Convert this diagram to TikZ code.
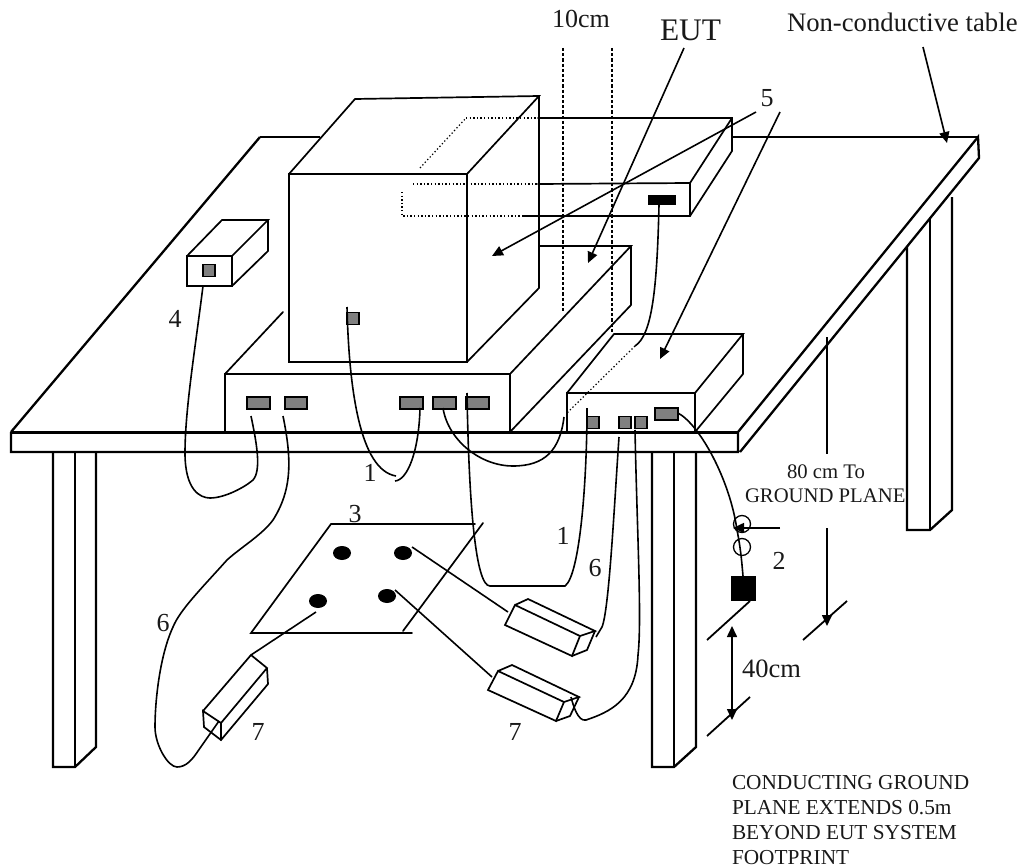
\documentclass[tikz,border=0pt]{standalone}
\usepackage{fontspec}
\setmainfont{Liberation Serif}
\usetikzlibrary{arrows.meta,shapes.geometric}
\tikzset{
  every node/.style={inner sep=0pt,outer sep=0pt,text=black!90},
  edgeline/.style={line width=1.7pt,line join=miter,line cap=round},
  heavy/.style={line width=3pt,line cap=butt},
  tableline/.style={line width=2.3pt,line cap=butt},
  cable/.style={line width=1.6pt},
  dotline/.style={line width=1.2pt,dash pattern=on 1.3pt off 2.3pt},
  dashline/.style={line width=1.1pt,dash pattern=on 3.2pt off 2pt},
  pointer/.style={line width=1.6pt,-{Triangle[length=11pt,width=10pt]}},
  twoway/.style={line width=1.6pt,{Triangle[length=11pt,width=10pt]}-{Triangle[length=11pt,width=10pt]}},
  port/.style={draw=black,fill=black!50,line width=1.5pt,minimum width=#1,minimum height=12pt,rectangle},
  num/.style={font=\fontsize{26}{26}\selectfont},
  small/.style={font=\fontsize{20.7}{25}\selectfont,anchor=base west},
  dot/.style={ellipse,fill=black,minimum width=18pt,minimum height=14pt},
}
\begin{document}
\begin{tikzpicture}[x=1pt,y=-1pt]
\useasboundingbox (0,0) rectangle (1020,867);
% ---- table
\draw[tableline] (260,137) -- (320,137);
\draw[tableline] (732,137) -- (978,137);
\draw[heavy] (11,432) -- (738,432);
\draw[tableline] (11,432) -- (260,137);
\draw[tableline] (11,432) -- (11,452) -- (738,452) -- (738,432) -- (978,137) -- (979,158) -- (740,452);
% legs
\draw[tableline] (53,452) -- (53,767) -- (75,767) -- (96,747) -- (96,452);
\draw[edgeline] (75,452) -- (75,767);
\draw[tableline] (652,452) -- (652,767) -- (674,767) -- (696,747) -- (696,452);
\draw[edgeline] (674,452) -- (674,767);
\draw[tableline] (907,247) -- (907,530) -- (930,530) -- (952,510) -- (952,197);
\draw[edgeline] (930,218) -- (930,530);
% ---- monitor
\draw[line width=1.9pt] (289,174) rectangle (467,362);
\draw[edgeline] (289,174) -- (355,99) -- (539,96) -- (467,174);
\draw[edgeline] (539,96) -- (539,288) -- (467,362);
% ---- unit behind monitor
\draw[edgeline] (538,118) -- (732,118) -- (732,151) -- (690,216) -- (523,216);
\draw[edgeline] (538,184) -- (690,183) -- (690,216);
\draw[edgeline] (690,183) -- (732,118);
\draw[dotline] (466,118) -- (538,118);
\draw[dotline] (420,168) -- (466,118);
\draw[dotline] (413,184) -- (538,184);
\draw[dotline] (402,192) -- (402,216) -- (523,216);
\node[fill=black,minimum width=28pt,minimum height=10pt] (blackport) at (662,200) {};
% ---- system base
\draw[edgeline] (225,432) -- (225,374) -- (510,374) -- (510,432);
\draw[edgeline] (225,374) -- (283,312);
\draw[edgeline] (510,374) -- (631,246) -- (539,246);
\draw[edgeline] (510,432) -- (631,305) -- (631,246);
% ---- peripheral box
\draw[edgeline] (567,432) -- (567,393) -- (695,393) -- (695,432);
\draw[edgeline] (567,393) -- (614,334) -- (743,334) -- (695,393);
\draw[edgeline] (743,334) -- (743,374) -- (695,432);
\draw[dotline] (635,346) -- (567,413);
% ---- small box
\draw[edgeline] (187,256) rectangle (232,286);
\draw[edgeline] (187,256) -- (222,220) -- (268,220) -- (232,256);
\draw[edgeline] (268,220) -- (268,251) -- (232,286);
% ---- ports
\node[port=12pt] (p4) at (209,270.5) {};
\node[port=12pt] (pm) at (353,318.5) {};
\node[port=23pt] (b1) at (258.5,403) {};
\node[port=22pt] (b2) at (296,403) {};
\node[port=23pt] (b3) at (411.5,403) {};
\node[port=23pt] (b4) at (444.5,403) {};
\node[port=23pt] (b5) at (477.5,403) {};
\node[port=12pt] (s1) at (593,422.5) {};
\node[port=12pt] (s2) at (625,422.5) {};
\node[port=12pt] (s3) at (641,422.5) {};
\node[port=23pt] (s4) at (666.5,414) {};
% ---- dashed 10cm lines
\draw[dashline] (563,48) -- (563,313);
\draw[dashline] (612,48) -- (612,333);
% ---- cables
\coordinate (c4) at (203,286);
\coordinate (cb1) at (251,416);
\draw[cable] (c4) .. controls (195,350) and (185,410) .. (185,453)
  .. controls (185,490) and (200,498) .. (210,498)
  .. controls (225,498) and (245,487) .. (253,480)
  .. controls (262,470) and (256,440) .. (cb1);
\coordinate (cb2) at (283,416);
\coordinate (k7) at (219,721);
\draw[cable] (cb2) .. controls (292,460) and (292,490) .. (273,520)
  .. controls (262,535) and (240,548) .. (227,560)
  .. controls (200,590) and (180,610) .. (173,627)
  .. controls (160,655) and (155,700) .. (155,727)
  .. controls (155,745) and (168,767) .. (177,767)
  .. controls (186,767) and (192,760) .. (198,751) -- (k7);
\coordinate (cm) at (347,307);
\coordinate (cm2) at (396,476);
\draw[cable] (cm) .. controls (349,390) and (360,470) .. (cm2);
\coordinate (cb3) at (420,408);
\coordinate (cb3e) at (395,481);
\draw[cable] (cb3) .. controls (419,450) and (408,480) .. (cb3e);
\coordinate (cb4) at (443,408);
\coordinate (cs0) at (564,417);
\draw[cable] (cb4) .. controls (448,440) and (480,466) .. (513,466)
  .. controls (545,466) and (560,450) .. (cs0);
\coordinate (cb5) at (467,393);
\coordinate (cs1) at (587,408);
\draw[cable] (cb5) .. controls (469,510) and (476,586) .. (490,586) -- (565,586)
  .. controls (580,575) and (587,480) .. (cs1);
\coordinate (cs2) at (619,437);
\coordinate (k72) at (596,637);
\draw[cable] (cs2) .. controls (614,510) and (609,610) .. (602,627) -- (k72);
\coordinate (cs3) at (635,430);
\coordinate (k73) at (571,697);
\draw[cable] (cs3) .. controls (637,530) and (642,620) .. (638,655)
  .. controls (636,700) and (610,712) .. (586,720)
  .. controls (578,722) and (573,705) .. (k73);
\coordinate (cs4) at (678,413);
\coordinate (sq) at (743,576);
\draw[cable] (cs4) .. controls (700,425) and (730,480) .. (737,530)
  .. controls (741,550) and (742,565) .. (sq);
\coordinate (cbk) at (659,205);
\coordinate (cbk2) at (635,346);
\draw[cable] (cbk) .. controls (657,290) and (652,335) .. (cbk2);
% ---- ferrite & square
\draw[line width=1.3pt] (742,524) circle [radius=8.5pt];
\draw[line width=1.3pt] (742,547) circle [radius=8.5pt];
\node[fill=black,minimum width=25pt,minimum height=25pt] (square) at (743.5,588.5) {};
\coordinate (ft) at (780,528);
\coordinate (fh) at (733,528);
\draw[pointer] (ft) -- (fh);
% ---- plate
\draw[edgeline] (475,524) -- (331,524) -- (251,633) -- (412,633);
\draw[edgeline] (483,523) -- (403,631);
\node[dot] (d1) at (342,553) {};
\node[dot] (d2) at (403,553) {};
\node[dot] (d3) at (318,601) {};
\node[dot] (d4) at (387,596) {};
% ---- keyboards / mice
\coordinate (m1) at (508,612);
\coordinate (m2) at (492,677);
\coordinate (m3) at (251,655);
\coordinate (e1) at (412,547);
\coordinate (e2) at (395,590);
\coordinate (e3) at (316,612);
\draw[cable] (e1) -- (m1);
\draw[cable] (e2) -- (m2);
\draw[cable] (e3) -- (m3);
% left box
\draw[edgeline] (203,711) -- (251,655) -- (267,668) -- (221,723) -- (203,711) -- (204,727) -- (221,740) -- (268,684) -- (267,668);
\draw[edgeline] (221,723) -- (221,740);
% upper right box
\draw[edgeline] (515,605) -- (528,599) -- (595,631) -- (580,636) -- (515,605) -- (505,625) -- (572,656) -- (580,636);
\draw[edgeline] (572,656) -- (587,650) -- (595,631);
% lower right box
\draw[edgeline] (498,671) -- (512,665) -- (579,697) -- (564,702) -- (498,671) -- (488,690) -- (556,721) -- (564,702);
\draw[edgeline] (556,721) -- (570,716) -- (579,697);
% ---- pointers
\node[font=\fontsize{26}{28}\selectfont,anchor=base west] (tencm) at (552,28) {10cm};
\node[font=\fontsize{31.4}{33}\selectfont,anchor=base west] (eut) at (660,41) {EUT};
\node[font=\fontsize{26.7}{28}\selectfont,anchor=base west] (nct) at (787,32) {Non-conductive table};
\coordinate (eutS) at (684,48);
\coordinate (eutT) at (588,263);
\draw[pointer] (eutS) -- (eutT);
\node[num] (five) at (767,98) {5};
\coordinate (f1) at (756,112);
\coordinate (f1t) at (492,256);
\draw[pointer] (f1) -- (f1t);
\coordinate (f2) at (780,112);
\coordinate (f2t) at (660,359);
\draw[pointer] (f2) -- (f2t);
\coordinate (n1) at (923,47);
\coordinate (n1t) at (947,143);
\draw[pointer] (n1) -- (n1t);
% ---- dimensions
\coordinate (h1) at (827,337);
\coordinate (h2) at (827,454);
\draw[line width=1.9pt] (h1) -- (h2);
\coordinate (h3) at (827,528);
\coordinate (h4) at (827,626);
\draw[pointer] (h3) -- (h4);
\draw[line width=1.8pt] (803,640) -- (847,601);
\draw[line width=1.8pt] (707,640) -- (750,601);
\draw[line width=1.8pt] (707,736) -- (750,697);
\coordinate (v1) at (732,626);
\coordinate (v2) at (732,720);
\draw[twoway] (v1) -- (v2);
% ---- labels
\node[num] (l4) at (175,319) {4};
\node[num] (l1a) at (370,473) {1};
\node[num] (l3) at (355,514) {3};
\node[num] (l1b) at (563,536) {1};
\node[num] (l6b) at (595,568) {6};
\node[num] (l2) at (779,561) {2};
\node[num] (l6a) at (163,623) {6};
\node[num] (l7a) at (258,732) {7};
\node[num] (l7b) at (515,732) {7};
\node[font=\fontsize{26.5}{28}\selectfont,anchor=base west] (l40) at (742,677) {40cm};
\node[small] (g1) at (787,478) {80 cm To};
\node[small] (g2) at (745,502) {GROUND PLANE};
\node[small,font=\fontsize{21.3}{25}\selectfont] (c1) at (732,789) {CONDUCTING GROUND};
\node[small,font=\fontsize{21.3}{25}\selectfont] (c2) at (732,814) {PLANE EXTENDS 0.5m};
\node[small,font=\fontsize{21.3}{25}\selectfont] (c3) at (732,839) {BEYOND EUT SYSTEM};
\node[small,font=\fontsize{21.3}{25}\selectfont] (c4t) at (732,864) {FOOTPRINT};
\end{tikzpicture}
\end{document}
